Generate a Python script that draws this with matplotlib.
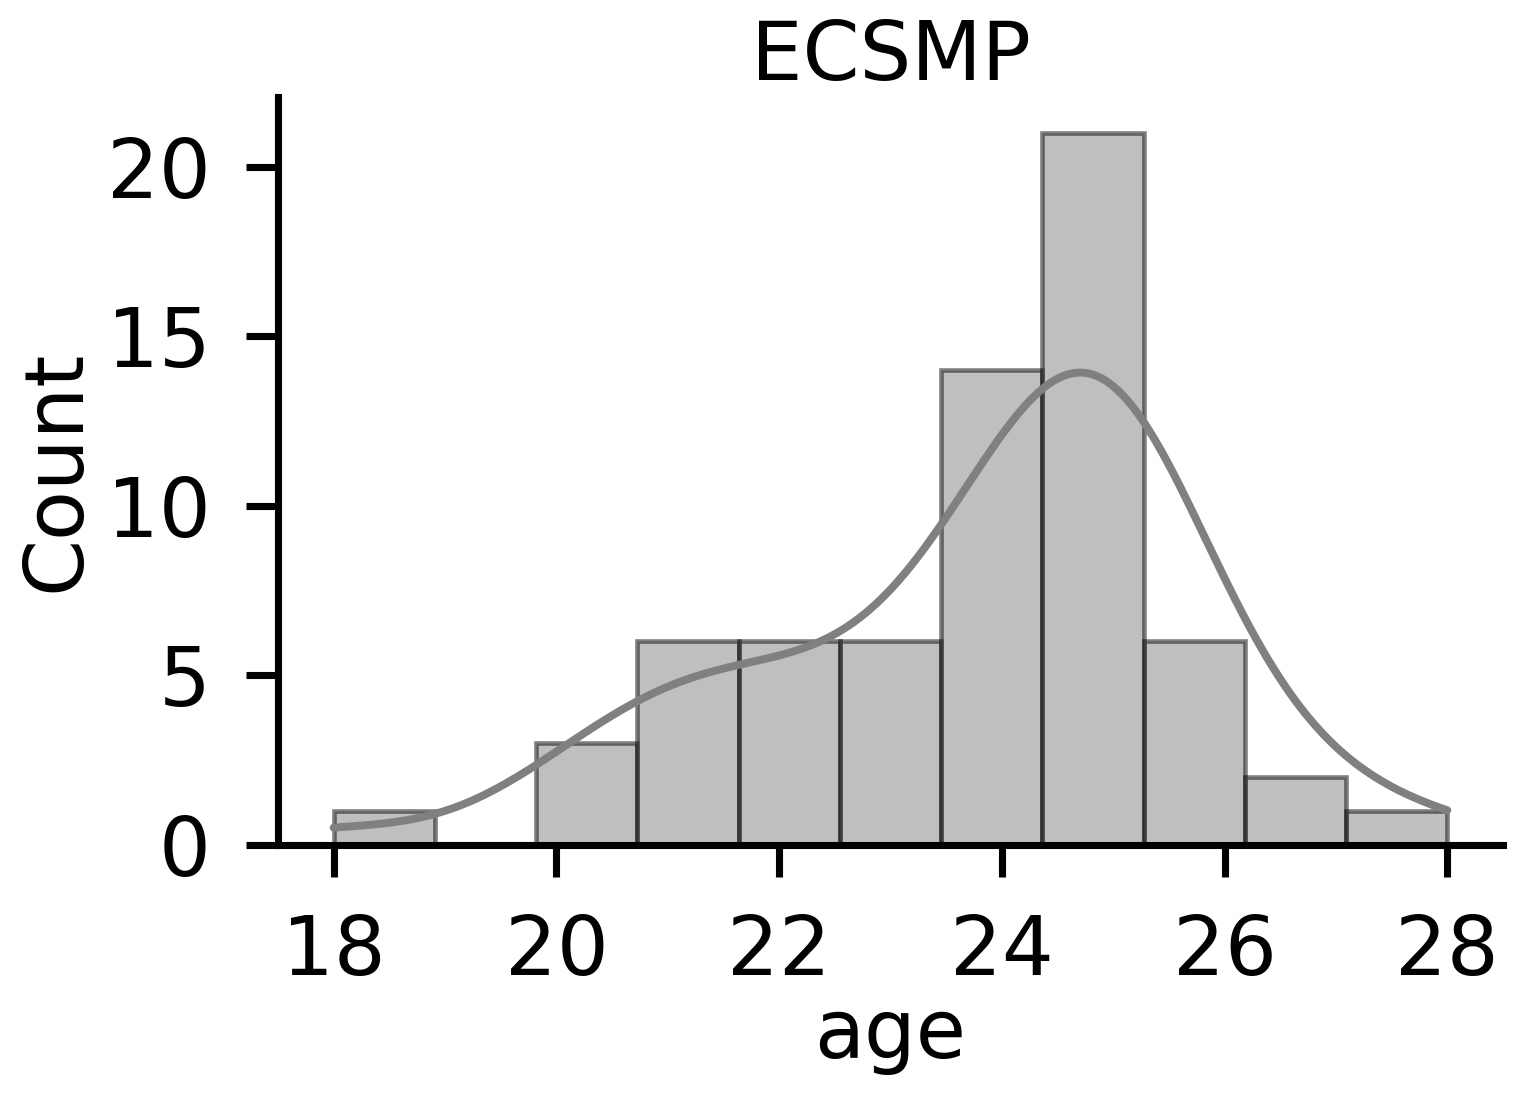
import numpy as np
import matplotlib
matplotlib.use('Agg')
import matplotlib.pyplot as plt
import seaborn as sns

# ages (whole years) and how many subjects had each
ages = [18, 19, 20, 21, 22, 23, 24, 25, 26, 27, 28]
counts = [1, 0, 3, 6, 6, 6, 14, 21, 6, 2, 1]
title = 'ECSMP'

age_data = np.repeat(ages, counts)

sns.set_style('ticks')
plt.rcParams['font.family'] = ['DejaVu Sans']
plt.rcParams['text.color'] = 'black'
plt.rcParams['axes.labelcolor'] = 'black'
plt.rcParams['axes.linewidth'] = 1.7
plt.rcParams['xtick.major.size'] = 7.7
plt.rcParams['ytick.major.size'] = 7.7
plt.rcParams['xtick.major.width'] = 1.7
plt.rcParams['ytick.major.width'] = 1.7
plt.rcParams['xtick.major.pad'] = 8.5
plt.rcParams['ytick.major.pad'] = 8.5
plt.rcParams['xtick.labelsize'] = 19.6
plt.rcParams['ytick.labelsize'] = 19.6
plt.rcParams['axes.edgecolor'] = 'black'
plt.rcParams['xtick.color'] = 'black'
plt.rcParams['ytick.color'] = 'black'

fig = plt.figure(figsize=(1523 / 300, 1099 / 300), dpi=300)
ax = fig.add_axes([0.1825, 0.2311, 0.9869 - 0.1825, 0.9117 - 0.2311])

sns.histplot(age_data, bins=11, kde=True, color='gray', edgecolor=(0, 0, 0, 0.5),
             alpha=0.5, linewidth=1.1, ax=ax, line_kws={'linewidth': 1.9})

ax.set_title(title, fontsize=19.6, pad=4, color='black')
ax.set_xlabel('age', fontsize=19.6, labelpad=1)
ax.set_ylabel('Count', fontsize=19.6, labelpad=2.5)
ax.set_xticks([18, 20, 22, 24, 26, 28])
ax.set_yticks([0, 5, 10, 15, 20])
sns.despine(ax=ax)

fig.savefig('out.png', dpi=300)
